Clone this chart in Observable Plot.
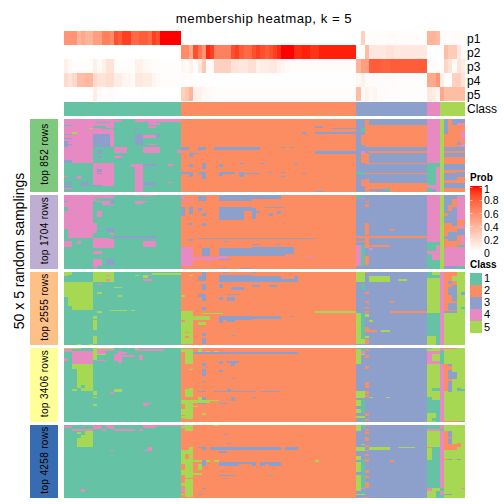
<!DOCTYPE html>
<html><head><meta charset="utf-8">
<script src="https://cdn.jsdelivr.net/npm/d3@7"></script>
<script src="https://cdn.jsdelivr.net/npm/@observablehq/plot@0.6"></script>
<style>
html,body{margin:0;padding:0;background:#fff}
#root{position:relative;width:504px;height:504px;overflow:hidden;font-family:"Liberation Sans",Helvetica,Arial,sans-serif;color:#000}
#root svg{position:absolute;display:block;background:transparent;overflow:visible}
.t{position:absolute;white-space:nowrap;line-height:1}
</style></head><body><div id="root"></div>
<script>
const classIds=[1,2,3,4,5];
const classColors=["#66C2A5","#FC8D62","#8DA0CB","#E78AC3","#A6D854"];
const probTicks=[1,0.8,0.6,0.4,0.2,0];
const trackNames=["p1","p2","p3","p4","p5"];
const panelLabels=["top 852 rows","top 1704 rows","top 2555 rows","top 3406 rows","top 4258 rows"];
const panelColors=["#7FC97F","#BEAED4","#FDC086","#FFFF99","#386CB0"];
const classRuns=[[28,1],[42,2],[17,3],[3,4],[6,5]];

const p1=[.55,.55,.55,.4,.45,.4,.4,.5,.5,.65,.65,.6,.85,.8,.9,.9,.75,.75,.8,.8,.75,.9,.85,1,1,1,1,1,
 0,0,0,0,0,0,0,0,0,0,0,0,0,0,0,0,0,0,0,0,0,0,0,0,0,0,0,0,0,0,0,0,0,0,0,0,0,0,0,0,0,0,
 0,.25,.01,.01,.01,.01,.01,.02,.02,.02,.01,.01,.01,.01,.01,.01,.01,
 .4,.4,.35,.03,.01,.01,.02,.02,.02];
const p2=[0,0,0,0,0,0,0,0,0,0,0,0,0,0,0,0,0,0,0,0,0,0,0,0,0,0,0,0,
 .6,.6,.45,.85,.7,.55,.95,.9,.65,.65,.65,.65,.85,.9,.8,.75,.75,.85,.9,.85,.8,.85,.9,.95,1,1,1,.95,.95,.97,.97,.93,.93,.97,.97,.97,.97,.97,.97,.97,.97,.97,
 .02,0,.35,.12,.12,.12,.12,.15,.15,.12,.12,.12,.12,.12,.12,.12,.12,
 0,0,0,.01,.35,.27,.27,.12,.02];
const p3=[.08,.03,.01,.01,.01,.01,.01,.08,.03,.08,.15,.15,.01,.01,.01,.01,.01,.07,.07,.04,.03,.01,.01,.01,.01,.01,.01,.01,
 .05,.02,.08,.01,.12,.3,.02,.02,.25,.25,.25,.25,.15,.15,.13,.13,.17,.17,.08,.1,.1,.12,.12,.07,.05,.03,.01,.01,.01,.01,.01,.01,.01,.01,.01,.01,.01,.01,.01,.01,.01,.01,
 .4,.5,.5,.8,.8,.8,.78,.78,.8,.8,.8,.8,.8,.8,.8,.8,.8,
 .01,.01,.01,.01,.22,.15,.02,.15,.1];
const p4=[.2,.15,.2,.35,.35,.38,.38,.2,.15,.15,.18,.18,.1,.1,.05,.05,.02,.12,.12,.1,.1,.05,.03,.01,.01,.01,.01,.01,
 .02,.01,.02,.005,.005,.005,.005,.005,.005,.005,.005,.005,.005,.005,.005,.005,.005,.005,.005,.005,.005,.005,.005,.005,.005,.005,.005,.005,.005,.005,.005,.005,.005,.005,.005,.005,.005,.005,.005,.005,.005,.005,
 .04,.08,.02,.02,.02,.02,.02,.02,.02,.02,.01,.01,.01,.01,.01,.01,.01,
 .45,.45,.55,.1,0,0,.25,.25,.15];
const p5=[0,0,0,0,0,0,0,.1,.03,.01,.01,.02,0,0,0,0,0,0,0,0,0,0,0,0,0,0,0,0,
 .25,.3,.4,.08,.08,.04,.04,.03,.01,.01,.01,.01,.01,.01,.01,.01,.01,.01,.01,.01,.01,.01,.01,.01,.01,.01,.01,.01,.01,.01,.01,.01,.01,.01,.01,.01,.01,.01,.01,.01,.01,.01,
 .35,.02,.07,.03,.06,.02,.02,.01,.01,.01,.01,.01,.01,.01,.01,.01,.01,
 .12,.1,.06,.45,.35,.35,.35,.35,.35];
const trackValues=[p1,p2,p3,p4,p5];

const panel1Runs=[[28,1],[42,2],[17,3],[3,4],[1,5],[5,2]];
const panel2Runs=[[28,1],[42,2],[17,3],[3,4],[1,5],[5,2]];
const panel3Runs=[[28,1],[42,2],[17,3],[3,5],[1,4],[5,5]];
const panel4Runs=[[28,1],[42,2],[17,3],[3,5],[1,4],[5,5]];
const panel5Runs=[[28,1],[42,2],[17,3],[3,5],[1,4],[5,5]];

// patches: first column, end column, first row, end row, class
const panel1Patches=[
[0,7,0,30,4],[7,12,0,11,4],[7,11,10,19,3],[11,12,10,19,4],[8,11,2,3,1],[7,10,5,6,1],[9,12,6,7,1],[17,28,0,2,4],[12,14,1,2,4],
[0,2,4,5,1],[0,2,10,11,1],[2,3,9,10,5],[6,7,6,7,5],[0,2,13,14,3],[0,1,15,19,3],[1,2,17,18,3],[0,2,28,30,3],
[8,9,21,24,3],[8,9,25,27,3],[12,15,19,23,4],[12,14,25,27,4],[13,14,27,28,3],[17,19,10,18,3],[19,22,11,13,4],[20,22,2,6,4],[20,22,4,5,1],[22,23,3,4,4],[17,18,6,7,3],
[19,23,19,23,4],[27,28,21,23,4],[20,22,17,18,4],[22,23,10,12,3],
[7,12,30,46,4],[8,9,34,36,3],[8,9,37,38,3],[17,19,31,50,4],[16,17,31,33,4],[19,22,31,32,3],[19,22,43,45,3],[25,26,31,32,4],[25,26,43,44,4],
[0,1,39,40,4],[3,4,39,41,4],[4,6,43,46,3],[0,2,43,45,3],[0,2,47,48,4],[0,2,46,47,3],[2,3,41,42,3],[7,9,45,46,3],
[28,30,19,21,3],[32,34,19,21,3],[36,47,19,21,3],[52,53,19,20,3],[54,55,19,20,3],[30,31,23,26,3],[31,32,23,24,3],
[30,31,31,33,3],[33,34,30,34,3],[37,38,31,33,3],[42,43,30,31,3],[28,31,36.5,38,3],[32,34,36,38,3],[37,41,36,38,3],[42,43,36,39,3],[43,47,37,38,3],[30,31,38,40,3],[33,34,38,41,3],[37,38,38,39,3],[42,43,39,40,3],
[49,50,36,37,3],[52,53,36,37,3],[52,53,39,40,3],[60,62,5,6,3],[57,58,9,10,3],[60,70,9,10,3],[64,70,6,7,3],[60,70,22,24,3],[47,48,30,31,3],[55,56,30,31,3],[60,62,49,50,3],[57,58,37,38,3],[30,31,0,1,3],
[73,87,4,19,2],[72,73,1,19,2],[72,73,23,31,2],[72,73,41,50,2],[73,87,22,23.5,2],[73,87,30,31,2],[72,87,37,38,2],[73,87,44,50,2],[73,75,48,49,3],[75,78,48,50,3],[77,78,47,49,1],
[71,72,6,9,1],[71,72,22,24,4],[70,72,36,38,1],[71,72,45,46,4],[71,72,11,18,2],[71,72,24,30,2],[71,72,42,45,2],
[87,89,30,45,1],[89,90,30,33,1],[87,88,47,50,1],[88,89,48,50,3],
[91,92,0,10,3],[93,94,0,4,3],[94,96,0,3,3],[95,96,8,14,4],[94,96,3,4,4],[94,95,16,18,3],[95,96,17,20,4],[91,96,19,22,3],[91,96,23,26,3],[91,96,31,35,3],[91,94,37,42,3],[94,96,36,40,3],[91,96,44,47,3]];

const panel2Patches=[
[0,7,0,27,4],[1,7,27,29,4],[0,1,8,11,1],[0,1,23,28,1],[0,1,4,5,3],[7,12,0,2,4],[17,22,0,1,4],[8,9,11,15,4],[7,8,3,4,4],[9,12,4,7,4],[11,12,3,6,3],[8,9,4,5,4],
[7,8,19,26,4],[8,9,24,25,3],[10,12,22,25,3],[11,12,26,27,4],[7,12,29,36,4],[11,12,29,30,1],[0,2,31,35,4],[3,4,31,33,4],[7,9,38,40,4],[7,8,43,49,4],[8,9,43,45,4],[10,12,43,47,3],[8,9,45,48,4],
[12,22,28,29,3],[19,22,31,35,4],[17,20,4,6,4],[18,20,28,29,3],[19,21,5,6,1],
[32,34,1,4,3],[37,45,0,4,3],[28,29,8,14,3],[30,31,8,13,3],[32,33,9,11,3],[33,34,12,14,3],[37,43,8,17,3],[43,45,8,11,3],[28,31,4,5,4],[28,29,1,3,4],[30,31,19,20,3],[33,34,19,21,3],[32,45,29,30,3],[30,31,30,31,3],[38,39,31,32,3],[33,35,36,41,3],[37,45,36,41,3],[28,31,35,48,4],[31,37,42,44,4],[37,39,41,43,4],[34,35,44,45,4],[37,40,43,44,3],[42,45,49,50,3],[37,39,49,50,3],
[45,52,0,3,3],[45,46,9,16,3],[45,47,11,12,3],[48,53,8,9,3],[49,50,12,14,3],[51,52,11,13,3],[45,60,29,30,3],[45,55,35,40,3],[47,49,39,40,2],[45,53,38,41,3],[51,52,33,34,3],[45,47,33,34,3],[52,53,41,42,4],[54,55,41,42,4],[58,60,41,42,4],
[70,71,34,48,4],[71,72,34,48,1],[71,72,2,3,4],[70,71,0,2,1],[71,72,0,1,1],[72,73,4,5,2],[72,73,6,8,2],[72,73,19,27,2],[72,73,29,35,2],[72,73,41,47,2],[70,73,31,32,2],[70,87,28,29,2],[78,79,23,24,2],[73,78,34,35,2],[72,73,35,36,4],[73,74,36,37,4],
[87,89,32,38,1],[89,90,32,34,1],[87,90,44,50,1],[87,88,40,44,1],
[91,93,0,7,3],[93,94,0,3,3],[94,96,0,1,1],[94,96,1,17,4],[91,92,7,12,3],[92,93,11,14,3],[93,94,8,21,3],[91,93,14,19,3],[94,96,21,22,4],[91,92,28,30,3],[92,94,25,31,3],[94,96,23,27,3],[95,96,27,34,4],[91,96,35,48,4],[91,94,48,50,3],[94,96,48,50,1],[94,96,34,35,1]];

const panel3Patches=[
[0,7,7,26,5],[0,1,17,26,1],[1,2,23,26,1],[0,2,0,2,5],[0,1,2,3,5],[7,12,0,7,5],[10,11,2,3,4],[10,11,5,6,4],[8,9,8,9,4],[8,9,14,15,5],[12,14,10,11,5],[13,14,16,17,5],[11,15,26,27,5],[16,17,26,27,5],[7,8,30,32,5],[7,8,33,40,5],[7,8,44,49,5],[3,4,49,50,5],[6,7,49,50,5],[8,9,27,28,5],[17,18,2,3,5],[19,20,2,4,5],[19,21,5,6,4],[20,21,2,3,4],[21,28,1,2,5],
[30,31,2,3,5],[30,31,6,7,4],[33,34,0,6,3],[32,33,3,6,3],[37,45,2,7,3],[38,39,0,1,3],[33,34,8,12,3],[37,38,8,11,3],[40,43,10,12,3],[28,29,16,17,5],[32,34,15,17,3],[33,34,17,20,3],[37,38,17,19,3],[39,41,17,20,3],[39,42,15,16,3],[33,34,24,26,3],[33,34,34,36,3],[33,34,42,44,3],[33,34,45,49,3],
[28,31,27,49,5],[31,35,30,33,5],[33,38,28,29,5],[37,45,30,33,3],[32,34,34,36,5],[37,38,33,35,3],[39,41,33,34,3],[40,41,43,44,3],[28,29,33,34,2],[29,30,41,42,2],[29,30,44,45,2],
[45,46,0,1,3],[45,52,3,7,3],[52,56,5,7,3],[55,56,3,5,3],[45,47,9,10,3],[49,51,9,10,3],[60,70,27,28,5],[45,52,30,32,3],[54,55,30,31,3],
[70,72,0,7,5],[71,72,8,12,1],[72,73,0,1,2],[72,73,14,15,2],[72,73,20,21,2],[72,73,24,25,2],[72,73,27,28,2],[72,73,29,31,5],[70,71,28,49,5],[71,72,28,46,1],[71,72,46,49,5],[72,73,38,41,2],[73,74,33,34,5],[73,78,3,7,5],[80,82,5,6,5],[78,87,27,28,2],[73,75,40,41,2],[76,78,40,41,5],[78,79,20,21,2],[72,73,44,45,5],[72,73,46,49,2],
[87,88,0,2,1],[87,90,2,4,1],[87,90,28,40,1],[87,90,40,44,1],[89,90,44,50,1],
[91,94,0,3,2],[91,93,3,27,2],[92,93,6,8,3],[92,94,10,16,3],[93,94,6,27,2],[92,94,21,26,3],[93,94,9,20,3],[95,96,14,16,3],[95,96,24,25,1],[91,94,27,28,3]];

const panel4Patches=[
[0,3,0,1,5],[3,4,0,1,5],[7,12,0,1,5],[17,18,0,1,5],[0,2,1,3,4],[2,7,2,11,4],[0,1,7,9,4],[7,8,1,8,5],[8,10,1,4,4],[8,10,4,5,5],[10,12,1,2,4],[8,10,8,9,4],[12,14,4,9,4],[13,14,2,4,4],[13,14,9,10,4],[14,17,5,6,4],[18,19,5,8,4],[14,15,3,4,4],[17,24,1,2,4],
[2,7,11,14,5],[3,7,14,27,5],[2,3,28,29,5],[4,5,25,27,1],[4,7,27,29,5],[7,8,29,32,5],[7,8,33,34,5],[7,8,38,39,5],[12,14,28,30,5],[11,12,30,31,4],[19,20,37,39,4],[20,21,37,38,4],
[28,31,1,3,5],[29,31,3,11,5],[31,33,3,4,3],[32,33,1,3,5],[34,35,2,3,5],[36,37,2,3,5],[33,45,3,4,3],[33,34,10,12,3],[37,38,9,11,3],[39,42,9,10,3],[40,41,10,12,3],[33,34,14,19,3],[37,38,15,16,3],[33,34,22,23,3],[40,41,20,21,3],[30,31,14,15,5],[30,31,27,28,5],[29,31,28,33,5],[32,34,29,30,3],[36,45,29,30,3],[39,40,28,29,3],[33,34,33,35,3],[40,41,33,36,3],[32,34,37,38,3],[37,39,37,38,3],[28,31,35,38,5],[29,31,38,48,5],[28,29,41,45,5],[28,31,46,47,5],[31,35,35,37,5],[32,33,33,37,5],[35,37,35,36,5],[31,32,39,40,5],[33,34,44,45,5],
[45,56,3,4,3],[45,46,29,30,3],[47,52,29,30,3],[45,46,33,34,3],
[71,72,0,2,1],[70,71,1,11,5],[71,72,2,4,4],[71,72,4,5,5],[72,73,1,2,2],[72,73,5,7,2],[72,73,12,14,2],[72,73,23,27,2],[70,72,29,34,5],[71,72,35,44,1],[70,71,35,39,5],[70,71,41,44,5],[70,72,46,47,5],[71,72,48,50,1],[72,73,29,31,2],[72,73,32,33,2],[72,73,44,46,2],[72,73,48,49,2],[73,74,33,34,5],[77,78,33,34,5],
[87,88,0,1,1],[87,90,2,4,4],[87,88,4,11,4],[88,90,9,11,4],[88,89,4,5,5],[88,90,27,29,1],[87,88,33,44,1],[88,90,35,44,1],[89,90,44,50,1],[88,89,47,49,1],
[90,91,2,11,1],[91,94,0,1,2],[91,93,11,29,2],[92,93,11,12,3],[92,93,15,20,3],[92,94,16,21,3],[92,93,22,29,3],[94,96,28,29,1],[94,95,27,28,3],[91,95,49,50,2],[95,96,49,50,1],[92,93,29,30,3]];

const panel5Patches=[
[0,2,1,2,4],[7,9,0,3,4],[10,12,0,2,4],[11,12,2,3,4],[9,10,3,4,4],[2,7,3,4,4],[12,17,3,4,4],[18,19,3,4,4],[19,28,0,1,4],[19,22,1,2,4],
[3,4,5,6,5],[3,7,9,15,5],[5,7,4,9,5],[4,5,7,9,5],[11,12,17,18,4],[19,20,17,18,4],[20,21,15,18,4],[4,5,44,46,4],
[29,31,0,4,5],[28,29,1,2,5],[28,29,2,3,4],[36,37,0,1,5],[28,29,17,27,5],[29,30,17,20,5],[30,31,15,36,5],[29,31,23,36,5],[32,33,27,31,5],[31,33,24,25,5],[34,35,24,25,5],[36,37,24,25,5],[28,29,31,34,5],[31,33,33,34,5],[28,29,40,42,5],[29,31,37,49,5],[28,29,47,48,5],[28,29,43,45,4],
[32,33,15,16,3],[33,34,15,17,3],[35,45,15,17,3],[37,39,18,19,3],[39,40,12,13,3],[38,39,6,7,3],[33,34,24,28,3],[37,42,25,28,3],[42,45,25,27,3],[37,41,34,35,3],[38,39,36,37,3],[33,34,43,44,3],[32,33,47,48,3],
[45,52,15,17,3],[53,56,15,17,3],[45,46,25,28,3],[47,52,25,28,3],[48,49,27,28,2],[49,50,34,35,3],[60,61,24,25,5],
[70,71,0,4,5],[71,72,0,2,1],[72,73,0,1,2],[72,73,3,4,2],[72,73,5,6,2],[72,73,8,11,2],[71,72,13,14,5],[72,73,14,15,2],[70,72,15,18,5],[72,73,17,18,2],[73,78,15,17,5],[80,84,15,16,5],[72,73,20,21,2],[70,71,21,24,5],[71,72,24,32,1],[70,71,25,32,5],[72,73,23,25,2],[78,79,24,25,2],[72,73,31,33,2],[72,73,35,36,2],[70,71,34,45,5],[71,72,33,44,1],[72,73,39,43,2],[71,72,43,44,4],[71,72,45,47,1],[70,72,47,48,5],[72,73,49,50,2],
[87,90,0,3,1],[87,90,3,4,4],[88,90,15,17,1],[87,88,15,16,2],[88,90,17,43,1],[87,88,24,43,1],[87,88,43,45,4],[89,90,45,50,1],
[90,91,3,4,1],[90,91,43,45,1],[90,91,48,50,1],
[91,92,4,17,2],[92,93,4,8,3],[92,93,8,17,2],[92,93,9,13,3],[93,94,13,17,2],[94,95,12,15,2],[91,92,23,24,2],[92,93,23,24,3],[94,95,23,24,3],[91,93,47,48,3],[95,96,43,44,4]];

const panelRuns=[panel1Runs,panel2Runs,panel3Runs,panel4Runs,panel5Runs];
const panelPatches=[panel1Patches,panel2Patches,panel3Patches,panel4Patches,panel5Patches];

const root=document.getElementById("root");
function place(node,x,y){node.style.left=x+"px";node.style.top=y+"px";root.appendChild(node);return node;}
function text(s,x,y,size,opts={}){const d=document.createElement("div");d.className="t";d.textContent=s;d.style.fontSize=size+"px";
 if(opts.bold)d.style.fontWeight="bold";if(opts.spacing)d.style.letterSpacing=opts.spacing+"px";place(d,x,y);return d;}
const classScale={type:"ordinal",domain:classIds,range:classColors};
const crisp={shapeRendering:"crispEdges"};
function runsToRects(runs,rows){let c=0;return runs.map(([n,k])=>{const r={c1:c,c2:c+n,r1:0,r2:rows,k};c+=n;return r;});}
const heatX={axis:null,domain:[0,96],range:[0,401]};

// probability heatmap
const probCells=trackNames.flatMap((name,i)=>trackValues[i].map((v,j)=>({name,c:j,v})));
place(Plot.plot({width:401,height:71,margin:0,x:heatX,
 y:{axis:null,type:"band",domain:trackNames,padding:0},
 color:{type:"linear",domain:[0,1],range:["white","red"],interpolate:"lab"},
 marks:[Plot.rect(probCells,{x1:"c",x2:d=>d.c+1,y:"name",fill:"v",...crisp})]}),64,30);

// class track
place(Plot.plot({width:401,height:14,margin:0,x:heatX,y:{axis:null,domain:[0,1]},color:classScale,
 marks:[Plot.rect(runsToRects(classRuns,1),{x1:"c1",x2:"c2",y1:"r1",y2:"r2",fill:"k",...crisp})]}),64,102);

// five row panels
const panelTops=[119,195,272,348,425];
const panelHeights=[73,74,73,74,73];
panelLabels.forEach((label,i)=>{
 place(Plot.plot({width:401,height:panelHeights[i],margin:0,x:heatX,y:{axis:null,domain:[50,0]},color:classScale,
  marks:[
   Plot.rect(runsToRects(panelRuns[i],50),{x1:"c1",x2:"c2",y1:"r1",y2:"r2",fill:"k",...crisp}),
   Plot.rect(panelPatches[i],{x1:d=>d[0],x2:d=>d[1],y1:d=>d[2],y2:d=>d[3],fill:d=>d[4],...crisp})
  ]}),64,panelTops[i]);
 place(Plot.plot({width:28,height:panelHeights[i],margin:0,style:{letterSpacing:"0.35px"},x:{axis:null,type:"band",domain:[label],padding:0},
  y:{axis:null,type:"band",domain:[label],padding:0},color:{type:"ordinal",domain:panelLabels,range:panelColors},
  marks:[Plot.cell([label],{x:d=>d,y:d=>d,fill:d=>d,...crisp}),
   Plot.text([label],{x:d=>d,y:d=>d,text:d=>d,rotate:-90,dy:-2,fontSize:10,fontFamily:"Liberation Sans",fill:"black"})]}),30,panelTops[i]);
});

// text
const title=text("membership heatmap, k = 5",0,12,13.2,{spacing:0.5});title.style.width="504px";title.style.left="12px";title.style.textAlign="center";
trackNames.concat(["Class"]).forEach((s,i)=>text(s,467,[32,46,60,74,88,102][i]+1,12));
const side=text("50 x 5 random samplings",19,251,14);side.style.transform="translate(-50%,-50%) rotate(-90deg)";

// probability legend
text("Prob",470,173,10,{bold:true});
const grad=d3.range(0,1.0001,0.01);
place(Plot.plot({width:12,height:65,margin:0,x:{axis:null,domain:[0,1]},y:{axis:null,domain:[0,1]},
 color:{type:"linear",domain:[0,1],range:["white","red"],interpolate:"lab"},
 marks:[Plot.rect(grad,{x1:0,x2:1,y1:d=>d,y2:d=>d+0.012,fill:d=>d,...crisp}),
  Plot.ruleY(probTicks,{x1:0,x2:0.2,stroke:"white",strokeWidth:0.6}),
  Plot.ruleY(probTicks,{x1:0.8,x2:1,stroke:"white",strokeWidth:0.6})]}),470,187);
probTicks.forEach((v,i)=>text(String(v),484,[184,195,209,222,235,248][i],10.5));

// class legend
text("Class",470,260,10,{bold:true});
place(Plot.plot({width:12,height:61,margin:0,x:{axis:null,type:"band",domain:["k"],padding:0},
 y:{axis:null,type:"band",domain:classIds,padding:0},color:classScale,
 marks:[Plot.cell(classIds,{x:()=>"k",y:d=>d,fill:d=>d,...crisp})]}),470,272);
classIds.forEach((v,i)=>text(String(v),484,[272,284,296,308,321][i]+1,11));
</script></body></html>
